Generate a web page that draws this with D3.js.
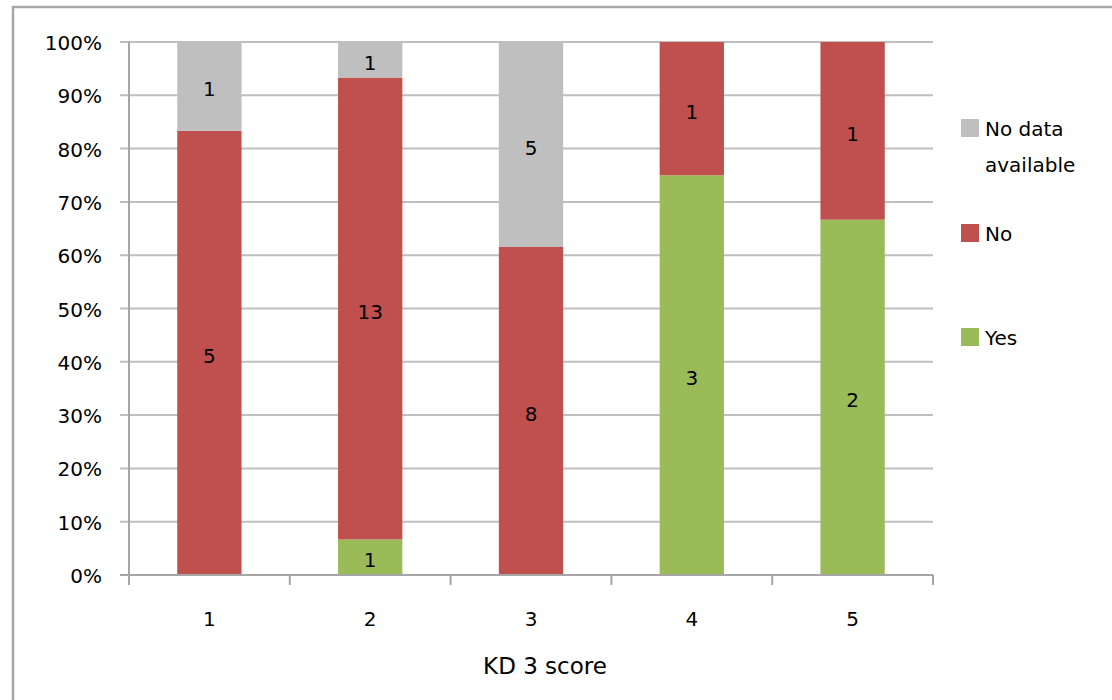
<!DOCTYPE html>
<html>
<head>
<meta charset="utf-8">
<script src="https://cdnjs.cloudflare.com/ajax/libs/d3/7.8.5/d3.min.js"></script>
<style>
  body { margin: 0; background: #fff; }
  text { font-family: "DejaVu Sans", sans-serif; fill: #000; }
</style>
</head>
<body>
<div id="chart"></div>
<script>
'use strict';
var categories = ['1', '2', '3', '4', '5'];
var yesCounts = [0, 1, 0, 3, 2];
var noCounts = [5, 13, 8, 1, 1];
var noDataCounts = [1, 1, 5, 0, 0];
var seriesNames = ['Yes', 'No', 'No data available'];
var seriesColors = ['#9bbb59', '#c0504d', '#bfbfbf'];
var yTicks = [0, 0.1, 0.2, 0.3, 0.4, 0.5, 0.6, 0.7, 0.8, 0.9, 1];
var xTitle = 'KD 3 score';

var width = 1112,
    height = 700;
var plot = { left: 129, right: 933, top: 42, bottom: 575 };

var svg = d3.select('#chart').append('svg')
    .attr('width', width)
    .attr('height', height);

// outer chart border (right/bottom fall outside the picture)
svg.append('rect')
    .attr('x', 13).attr('y', 7)
    .attr('width', 1120).attr('height', 720)
    .attr('fill', 'none')
    .attr('stroke', '#a6a6a6')
    .attr('stroke-width', 2.5);

var x = d3.scaleBand()
    .domain(categories)
    .range([plot.left, plot.right])
    .paddingInner(0.6)
    .paddingOuter(0.3);

var y = d3.scaleLinear()
    .domain([0, 1])
    .range([plot.bottom, plot.top]);

// gridlines
svg.append('g').selectAll('line').data(yTicks).enter().append('line')
    .attr('x1', plot.left - 9)
    .attr('x2', plot.right)
    .attr('y1', function (d) { return y(d); })
    .attr('y2', function (d) { return y(d); })
    .attr('stroke', '#bfbfbf')
    .attr('stroke-width', 2);

// stacked data
var rows = categories.map(function (c, i) {
    var total = yesCounts[i] + noCounts[i] + noDataCounts[i];
    return { cat: c, counts: [yesCounts[i], noCounts[i], noDataCounts[i]], total: total };
});

var segments = [];
rows.forEach(function (r) {
    var acc = 0;
    r.counts.forEach(function (v, s) {
        var y0 = acc / r.total;
        acc += v;
        if (v > 0) {
            segments.push({ cat: r.cat, s: s, v: v, y0: y0, y1: acc / r.total });
        }
    });
});

var bars = svg.append('g').selectAll('g.seg').data(segments).enter().append('g')
    .attr('class', 'seg');
bars.append('rect')
    .attr('x', function (d) { return x(d.cat); })
    .attr('width', x.bandwidth())
    .attr('y', function (d) { return y(d.y1); })
    .attr('height', function (d) { return y(d.y0) - y(d.y1); })
    .attr('fill', function (d) { return seriesColors[d.s]; });
bars.append('text')
    .attr('x', function (d) { return x(d.cat) + x.bandwidth() / 2; })
    .attr('y', function (d) { return y((d.y0 + d.y1) / 2); })
    .attr('dy', '0.5em')
    .attr('text-anchor', 'middle')
    .style('font-size', '20px')
    .text(function (d) { return d.v; });

// y axis
var yAxis = svg.append('g');
yAxis.append('line')
    .attr('x1', plot.left).attr('x2', plot.left)
    .attr('y1', plot.top).attr('y2', plot.bottom)
    .attr('stroke', '#a6a6a6').attr('stroke-width', 2);
yAxis.selectAll('text').data(yTicks).enter().append('text')
    .attr('x', plot.left - 27)
    .attr('y', function (d) { return y(d); })
    .attr('dy', '0.4em')
    .attr('text-anchor', 'end')
    .style('font-size', '20px')
    .text(function (d) { return Math.round(d * 100) + '%'; });

// x axis
var xTickPos = d3.range(categories.length + 1).map(function (i) {
    return plot.left + i * (plot.right - plot.left) / categories.length;
});
var xAxis = svg.append('g');
xAxis.append('line')
    .attr('x1', plot.left - 9).attr('x2', plot.right)
    .attr('y1', plot.bottom).attr('y2', plot.bottom)
    .attr('stroke', '#a6a6a6').attr('stroke-width', 2);
xAxis.selectAll('line.tick').data(xTickPos).enter().append('line')
    .attr('class', 'tick')
    .attr('x1', function (d) { return d; }).attr('x2', function (d) { return d; })
    .attr('y1', plot.bottom).attr('y2', plot.bottom + 10)
    .attr('stroke', '#a6a6a6').attr('stroke-width', 2);
xAxis.selectAll('text').data(categories).enter().append('text')
    .attr('x', function (d) { return x(d) + x.bandwidth() / 2; })
    .attr('y', 618)
    .attr('dy', '0.4em')
    .attr('text-anchor', 'middle')
    .style('font-size', '20px')
    .text(function (d) { return d; });

svg.append('text')
    .attr('x', 545)
    .attr('y', 665)
    .attr('dy', '0.4em')
    .attr('text-anchor', 'middle')
    .style('font-size', '23px')
    .text(xTitle);

// legend, top entry is last series
var legendY = [128, 233, 337];
var legend = svg.append('g').selectAll('g').data([2, 1, 0]).enter().append('g')
    .attr('transform', function (d, i) { return 'translate(961,' + legendY[i] + ')'; });
legend.append('rect')
    .attr('x', 0).attr('y', -9)
    .attr('width', 18).attr('height', 18)
    .attr('fill', function (d) { return seriesColors[d]; });
legend.append('text')
    .attr('x', 24)
    .attr('y', 0)
    .attr('dy', '0.4em')
    .style('font-size', '20px')
    .each(function (d) {
        var t = d3.select(this);
        if (d === 2) {
            t.append('tspan').attr('x', 24).text('No data');
            t.append('tspan').attr('x', 24).attr('dy', '1.8em').text('available');
        } else {
            t.text(seriesNames[d]);
        }
    });
</script>
</body>
</html>
